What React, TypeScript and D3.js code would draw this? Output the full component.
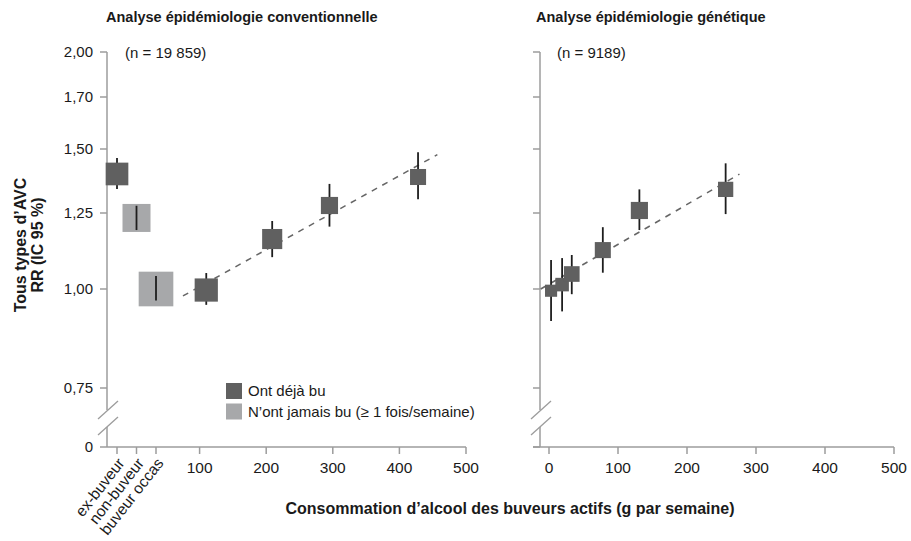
import React from 'react';
import * as d3 from 'd3';

// ---- Data ----
const yTickValues = [0.75, 1.0, 1.25, 1.5, 1.7, 2.0];
const yTickLabels = ['0,75', '1,00', '1,25', '1,50', '1,70', '2,00'];
const xTicksLeft = [100, 200, 300, 400, 500];
const xTicksRight = [0, 100, 200, 300, 400, 500];

const categories = ['ex-buveur', 'non-buveur', 'buveur occas'];
const catGroup = ['ever', 'never', 'never'];
const catRR = [1.397, 1.232, 1.0];
const catLow = [1.338, 1.189, 0.967];
const catHigh = [1.462, 1.276, 1.039];
const catWeight = [42, 64, 98];

const convDose = [110, 209, 295, 428];
const convRR = [0.997, 1.158, 1.277, 1.385];
const convLow = [0.955, 1.098, 1.201, 1.3];
const convHigh = [1.048, 1.221, 1.358, 1.486];
const convWeight = [44, 33, 24, 21];
const convTrendX = [75, 457];
const convTrendRR = [0.98, 1.476];

const genDose = [3, 19, 33, 78, 131, 256];
const genRR = [0.995, 1.013, 1.045, 1.121, 1.259, 1.337];
const genLow = [0.911, 0.937, 0.985, 1.049, 1.189, 1.246];
const genHigh = [1.089, 1.095, 1.105, 1.199, 1.337, 1.44];
const genWeight = [12, 15, 20, 21, 24, 19];
const genTrendX = [-12, 276];
const genTrendRR = [1.0, 1.396];

const legendLabels = ['Ont déjà bu', 'N’ont jamais bu (≥ 1 fois/semaine)'];

// ---- Styles ----
const FONT = '"Liberation Sans", Arial, Helvetica, sans-serif';
const DARK = '#606060';
const LIGHT = '#a7a8aa';
const AXIS = '#9c9c9c';
const BAR = '#1e1e1e';
const TEXT = '#1a1a1a';

const W = 911;
const H = 541;

const yTop = 52;
const yZero = 447;
const yLin = d3
  .scaleLinear()
  .domain(yTickValues.map((v) => Math.log(v)))
  .range([388, 289, 213, 149, 97, 52]);
const y = (v: number) => yLin(Math.log(v));

const sizeScale = d3.scaleSqrt().domain([0, 100]).range([0, 35]);

const xLeft = d3.scaleLinear().domain([0, 500]).range([133, 466]);
const xCat = d3.scalePoint<string>().domain(categories).range([117, 156]);
const xRight = d3.scaleLinear().domain([0, 500]).range([549, 894]);

const lineGen = d3
  .line<[number, number]>()
  .x((d) => d[0])
  .y((d) => d[1]);

function Marker({ cx, rr, lo, hi, w, kind }: { cx: number; rr: number; lo: number; hi: number; w: number; kind: string }) {
  const s = sizeScale(w);
  const cy = y(rr);
  return (
    <g>
      {kind === 'ever' && (
        <line x1={cx} x2={cx} y1={y(hi)} y2={y(lo)} stroke={BAR} strokeWidth={1.8} />
      )}
      <rect x={cx - s / 2} y={cy - s / 2} width={s} height={s} fill={kind === 'ever' ? DARK : LIGHT} />
      {kind === 'never' && (
        <line x1={cx} x2={cx} y1={y(hi)} y2={y(lo)} stroke={BAR} strokeWidth={1.8} />
      )}
    </g>
  );
}

function YAxis({ ax, labels }: { ax: number; labels: boolean }) {
  const breakTop = 410;
  const breakBot = 427;
  return (
    <g>
      <line x1={ax} x2={ax} y1={yTop} y2={breakTop} stroke={AXIS} strokeWidth={1.5} />
      <line x1={ax} x2={ax} y1={breakBot} y2={yZero} stroke={AXIS} strokeWidth={1.5} />
      <line x1={ax - 9} y1={419} x2={ax + 11} y2={401} stroke={AXIS} strokeWidth={1.3} />
      <line x1={ax - 9} y1={435} x2={ax + 11} y2={417} stroke={AXIS} strokeWidth={1.3} />
      {yTickValues.map((v, i) => (
        <g key={i}>
          <line x1={ax - 7} x2={ax} y1={y(v)} y2={y(v)} stroke={AXIS} strokeWidth={1.5} />
          {labels && (
            <text x={ax - 14} y={y(v)} dy="0.35em" textAnchor="end" fontSize={15} fill={TEXT}>
              {yTickLabels[i]}
            </text>
          )}
        </g>
      ))}
      <line x1={ax - 7} x2={ax} y1={yZero} y2={yZero} stroke={AXIS} strokeWidth={1.5} />
      {labels && (
        <text x={ax - 14} y={yZero} dy="0.35em" textAnchor="end" fontSize={15} fill={TEXT}>
          0
        </text>
      )}
    </g>
  );
}

export default function App() {
  const axL = 107;
  const axR = 540;
  return (
    <svg
      width={W}
      height={H}
      viewBox={`0 0 ${W} ${H}`}
      style={{ position: 'absolute', left: 0, top: 0, background: '#fff' }}
      fontFamily={FONT}
    >
      <rect width={W} height={H} fill="#fff" />
      {/* Titles */}
      <text x={106} y={22} fontSize={14.5} fontWeight="bold" fill={TEXT}>
        Analyse épidémiologie conventionnelle
      </text>
      <text x={536} y={22} fontSize={14.5} fontWeight="bold" fill={TEXT}>
        Analyse épidémiologie génétique
      </text>
      <text x={125} y={53} dy="0.35em" fontSize={15} fill={TEXT}>
        (n = 19 859)
      </text>
      <text x={557} y={53} dy="0.35em" fontSize={15} fill={TEXT}>
        (n = 9189)
      </text>

      {/* Y axis title */}
      <text transform="translate(26,245) rotate(-90)" textAnchor="middle" fontSize={16} fontWeight="bold" fill={TEXT}>
        Tous types d’AVC
      </text>
      <text transform="translate(43,245) rotate(-90)" textAnchor="middle" fontSize={16} fontWeight="bold" fill={TEXT}>
        RR (IC 95 %)
      </text>

      {/* Left panel axes */}
      <YAxis ax={axL} labels={true} />
      <line x1={axL} x2={xLeft(500)} y1={yZero} y2={yZero} stroke={AXIS} strokeWidth={1.5} />
      {categories.map((c) => (
        <g key={c}>
          <line x1={xCat(c)} x2={xCat(c)} y1={yZero} y2={yZero + 7} stroke={AXIS} strokeWidth={1.5} />
          <text
            transform={`translate(${(xCat(c) as number) + 4},${yZero + 13}) rotate(-52)`}
            textAnchor="end"
            dy="0.35em"
            fontSize={15.5}
            fill={TEXT}
          >
            {c}
          </text>
        </g>
      ))}
      {xTicksLeft.map((t) => (
        <g key={t}>
          <line x1={xLeft(t)} x2={xLeft(t)} y1={yZero} y2={yZero + 7} stroke={AXIS} strokeWidth={1.5} />
          <text x={xLeft(t)} y={yZero + 21} dy="0.35em" textAnchor="middle" fontSize={15.5} fill={TEXT}>
            {t}
          </text>
        </g>
      ))}

      {/* Right panel axes */}
      <YAxis ax={axR} labels={false} />
      <line x1={axR - 7} x2={xRight(500)} y1={yZero} y2={yZero} stroke={AXIS} strokeWidth={1.5} />
      {xTicksRight.map((t) => (
        <g key={t}>
          <line x1={xRight(t)} x2={xRight(t)} y1={yZero} y2={yZero + 7} stroke={AXIS} strokeWidth={1.5} />
          <text x={xRight(t)} y={yZero + 21} dy="0.35em" textAnchor="middle" fontSize={15.5} fill={TEXT}>
            {t}
          </text>
        </g>
      ))}

      {/* X axis title */}
      <text x={510} y={508} dy="0.35em" textAnchor="middle" fontSize={16} fontWeight="bold" fill={TEXT}>
        Consommation d’alcool des buveurs actifs (g par semaine)
      </text>

      {/* Trend lines */}
      <path
        d={lineGen(convTrendX.map((d, i) => [xLeft(d), y(convTrendRR[i])] as [number, number])) || ''}
        stroke="#666"
        strokeWidth={1.5}
        strokeDasharray="6,6"
        fill="none"
      />
      <path
        d={lineGen(genTrendX.map((d, i) => [xRight(d), y(genTrendRR[i])] as [number, number])) || ''}
        stroke="#666"
        strokeWidth={1.5}
        strokeDasharray="6,6"
        fill="none"
      />

      {/* Markers */}
      {categories.map((c, i) => (
        <Marker key={c} cx={xCat(c) as number} rr={catRR[i]} lo={catLow[i]} hi={catHigh[i]} w={catWeight[i]} kind={catGroup[i]} />
      ))}
      {convDose.map((d, i) => (
        <Marker key={'c' + i} cx={xLeft(d)} rr={convRR[i]} lo={convLow[i]} hi={convHigh[i]} w={convWeight[i]} kind="ever" />
      ))}
      {genDose.map((d, i) => (
        <Marker key={'g' + i} cx={xRight(d)} rr={genRR[i]} lo={genLow[i]} hi={genHigh[i]} w={genWeight[i]} kind="ever" />
      ))}

      {/* Legend */}
      {legendLabels.map((l, i) => (
        <g key={l} transform={`translate(226,${383 + i * 20.5})`}>
          <rect width={16} height={16} fill={i === 0 ? DARK : LIGHT} />
          <text x={22} y={8} dy="0.35em" fontSize={15} fill={TEXT}>
            {l}
          </text>
        </g>
      ))}
    </svg>
  );
}
